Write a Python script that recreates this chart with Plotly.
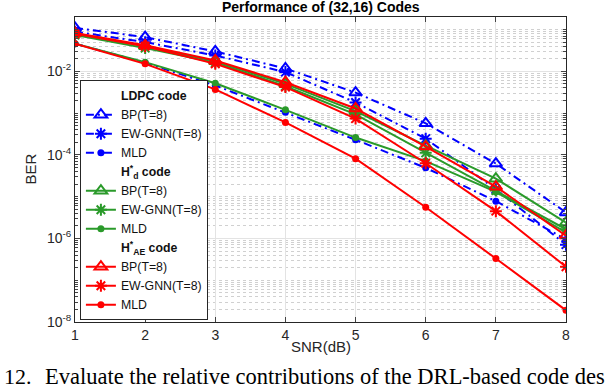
import plotly.graph_objects as go

snr = [1, 2, 3, 4, 5, 6, 7, 8]

# BER values (log10 scale estimates)
ldpc_bp = [0.11, 0.066, 0.030, 1.17e-2, 3.1e-3, 5.7e-4, 6.2e-5, 4.2e-6]
ldpc_gnn = [0.089, 0.050, 0.024, 9.6e-3, 1.8e-3, 2.45e-4, 1.5e-5, 7.1e-7]
ldpc_mld = [0.046, 0.016, 4.6e-3, 1.05e-3, 2.3e-4, 4.9e-5, 7.8e-6, 9.5e-7]

hd_bp = [0.079, 0.040, 0.0174, 5.0e-3, 1.12e-3, 1.66e-4, 2.7e-5, 2.4e-6]
hd_gnn = [0.074, 0.036, 0.0162, 4.4e-3, 9.3e-4, 1.12e-4, 1.4e-5, 1.66e-6]
hd_mld = [0.046, 0.0166, 5.2e-3, 1.2e-3, 2.6e-4, 7.1e-5, 1.3e-5, 1.4e-6]

ae_bp = [0.083, 0.042, 0.0182, 5.5e-3, 1.29e-3, 1.58e-4, 1.74e-5, 1.17e-6]
ae_gnn = [0.079, 0.040, 0.0151, 4.2e-3, 7.4e-4, 6.3e-5, 4.5e-6, 2.1e-7]
ae_mld = [0.046, 0.0151, 3.7e-3, 6.0e-4, 8.1e-5, 5.6e-6, 3.3e-7, 1.9e-8]

labels = ["BP(T=8)", "EW-GNN(T=8)", "MLD"]
groups = [
    ("<b>LDPC code</b>", "#0000ff", "dashdot", [ldpc_bp, ldpc_gnn, ldpc_mld]),
    ("<b>H<sup>*</sup><sub>d</sub> code</b>", "#2a9a2a", "solid", [hd_bp, hd_gnn, hd_mld]),
    ("<b>H<sup>*</sup><sub>AE</sub> code</b>", "#ff0000", "solid", [ae_bp, ae_gnn, ae_mld]),
]
symbols = ["triangle-up-open", "asterisk-open", "circle"]
sizes = [11, 10, 7]

FONT = "Liberation Sans, Arial, sans-serif"
fig = go.Figure()

for gi, (title, color, dash, series) in enumerate(groups):
    # invisible header entry for the legend
    fig.add_trace(go.Scatter(x=[None], y=[None], mode="lines", name=title,
                             line=dict(width=0, color="rgba(0,0,0,0)"),
                             legendgroup=str(gi), hoverinfo="skip"))
    for lab, sym, sz, vals in zip(labels, symbols, sizes, series):
        fig.add_trace(go.Scatter(
            x=snr, y=vals, mode="lines+markers", name=lab, legendgroup=str(gi),
            line=dict(color=color, width=2,
                      dash="8px,4px,2px,4px" if dash == "dashdot" else "solid"),
            marker=dict(symbol=sym, size=sz, color=color,
                        line=dict(color=color, width=2 if sym != "circle" else 0)),
        ))

major = [1e-8, 1e-6, 1e-4, 1e-2]
minor = []
for e in range(-8, 0):
    for k in range(1, 10):
        v = k * 10.0 ** e
        if v <= 0.2 and v not in major:
            minor.append(v)

fig.update_layout(
    width=608, height=390,
    margin=dict(l=75, r=42, t=17, b=68),
    paper_bgcolor="white", plot_bgcolor="white",
    font=dict(family=FONT, size=14, color="#262626"),
    showlegend=True,
    legend=dict(x=0.01, y=0.006, xanchor="left", yanchor="bottom",
                bgcolor="white", bordercolor="#262626", borderwidth=1,
                font=dict(size=12.3, color="#111111"), tracegroupgap=0,
                itemwidth=30),
)

fig.update_xaxes(
    range=[1, 8], tickvals=snr, ticks="inside", ticklen=5,
    showline=True, linecolor="#262626", linewidth=1, mirror="allticks",
    showgrid=True, gridcolor="#e3e3e3", gridwidth=1, zeroline=False,
    tickfont=dict(size=14),
)
fig.update_yaxes(
    type="log", range=[-8, -0.699],
    tickvals=major, ticktext=["10<sup>-8</sup>", "10<sup>-6</sup>", "10<sup>-4</sup>", "10<sup>-2</sup>"],
    ticks="inside", ticklen=5,
    showline=True, linecolor="#262626", linewidth=1, mirror="allticks",
    showgrid=True, gridcolor="#e3e3e3", gridwidth=1, zeroline=False,
    tickfont=dict(size=14),
    minor=dict(tickvals=minor, ticks="inside", ticklen=3, tickcolor="#444444",
               showgrid=True, gridcolor="#d0d0d0", griddash="dot", gridwidth=1),
)

fig.add_annotation(text="<b>Performance of (32,16) Codes</b>", xref="paper", yref="paper",
                   x=0.5, y=1.0, yshift=10, xanchor="center", yanchor="middle",
                   showarrow=False, font=dict(size=14, color="black", family=FONT))
fig.add_annotation(text="SNR(dB)", xref="paper", yref="paper", x=0.5, y=0,
                   yshift=-24, xanchor="center", yanchor="middle",
                   showarrow=False, font=dict(size=15, color="#262626"))
fig.add_annotation(text="BER", xref="paper", yref="paper", x=0, y=0.5, xshift=-45,
                   xanchor="center", yanchor="middle",
                   textangle=-90, showarrow=False, font=dict(size=15, color="#262626"))

SERIF = "Liberation Serif, Times New Roman, serif"
fig.add_annotation(text="12.", xref="paper", yref="paper", x=0, xshift=-73, y=0,
                   yshift=-54, xanchor="left", yanchor="middle", showarrow=False,
                   font=dict(size=22, color="black", family=SERIF))
fig.add_annotation(text="Evaluate the relative contributions of the DRL-based code des",
                   xref="paper", yref="paper", x=0, xshift=-32, y=0,
                   yshift=-54, xanchor="left", yanchor="middle", showarrow=False,
                   font=dict(size=22.5, color="black", family=SERIF))

fig.write_html("out.html", config={"displayModeBar": False},
               post_script="document.body.style.margin='0';")
